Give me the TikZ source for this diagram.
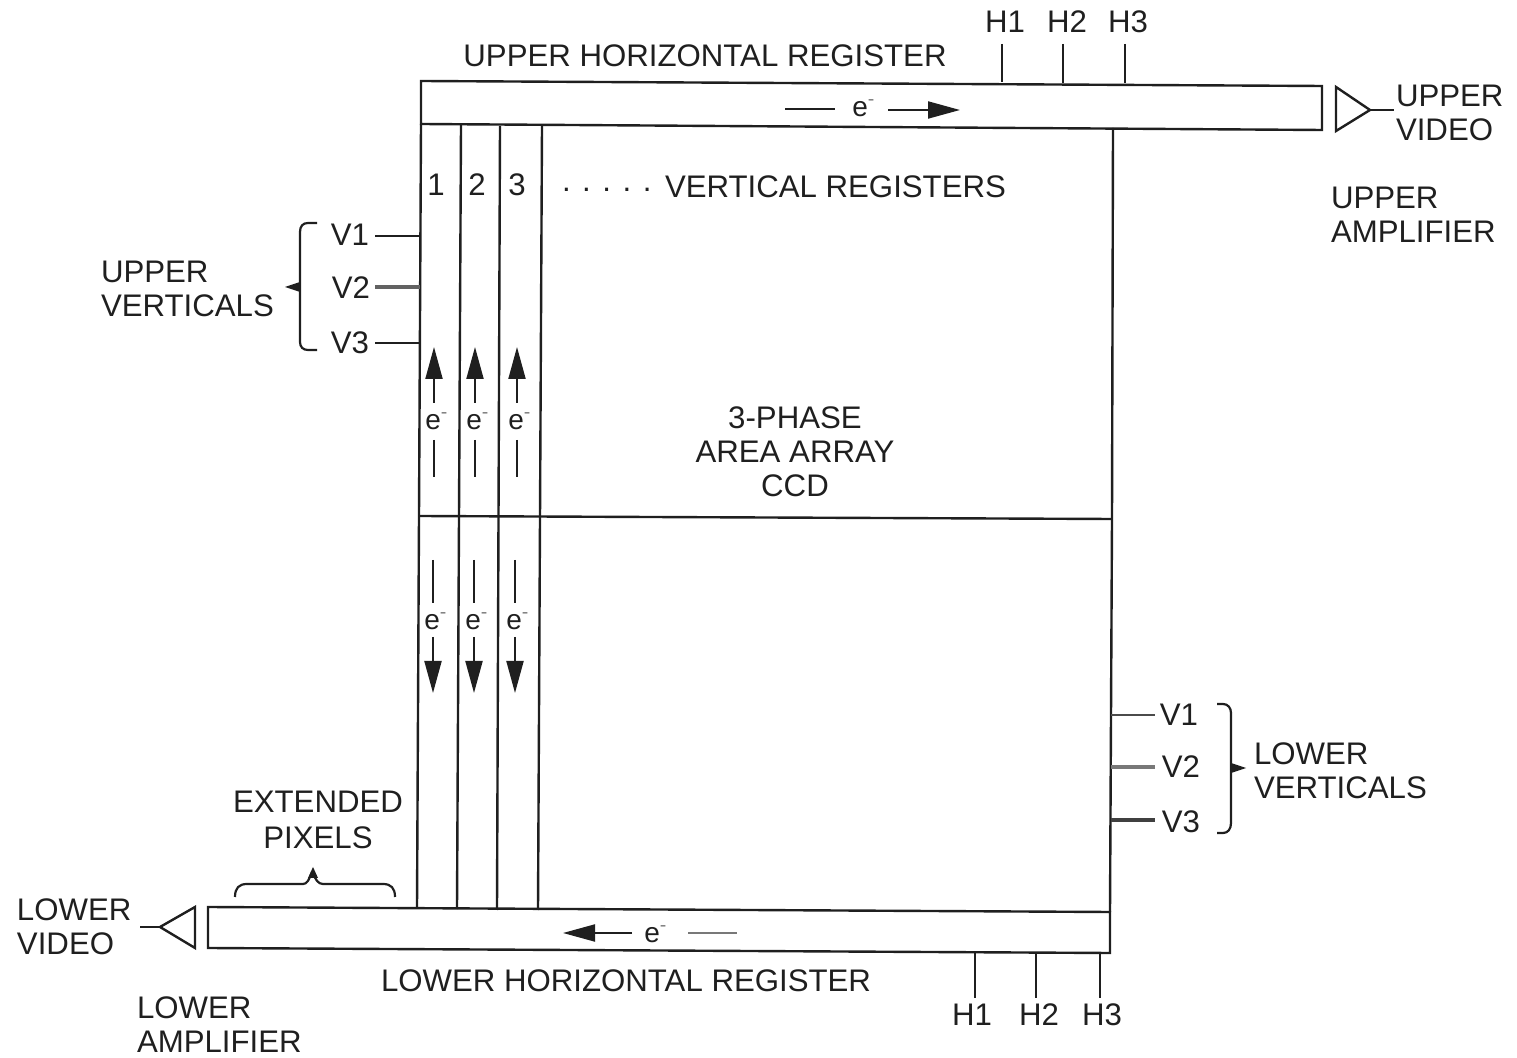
\documentclass[tikz,border=0pt]{standalone}
\usepackage{fontspec}
\setmainfont{Liberation Sans}
\usetikzlibrary{arrows.meta}
\definecolor{ink}{gray}{0.12}
\tikzset{
  lbl/.style={inner sep=0pt,outer sep=1pt,text=ink,font=\fontsize{15.6}{17}\selectfont},
  lleft/.style={lbl,align=left},
  lcen/.style={lbl,align=center},
  wire/.style={draw=ink,line width=1.2pt},
  stub/.style={draw=ink,line width=1pt},
  flow/.style={draw=ink,line width=1pt,-{Triangle[length=16pt,width=8.5pt]}},
  ee/.style={inner sep=0pt,text=ink,font=\fontsize{14}{15}\selectfont},
  brc/.style={draw=ink,line width=1.1pt,line join=round},
  brctip/.style={fill=ink,draw=none},
}
\newcommand{\eminus}{e\textsuperscript{\textcolor{gray}{-}}}
\begin{document}
\begin{tikzpicture}[x=0.5pt,y=-0.5pt]
\useasboundingbox (0,0) rectangle (1517,1058);
% corners
\coordinate (urTL) at (421,81);
\coordinate (urTR) at (1322,86);
\coordinate (urBL) at (421,124);
\coordinate (urBR) at (1322,130);
\coordinate (arrTR) at (1113,128);
\coordinate (midL) at (419,516);
\coordinate (midR) at (1112,519);
\coordinate (arrBL) at (417,908);
\coordinate (arrBR) at (1110,912);
\coordinate (lrTL) at (208,907);
\coordinate (lrBL) at (208,948);
\coordinate (lrBR) at (1110,953);
% registers and array
\draw[wire] (urBL) -- (urTL) -- (urTR) -- (urBR) -- cycle;
\draw[wire] (lrTL) -- (arrBR) -- (lrBR) -- (lrBL) -- cycle;
\draw[wire] (urBL) -- (midL) -- (arrBL);
\draw[wire] (arrTR) -- (midR) -- (arrBR);
\draw[wire] (midL) -- (midR);
% columns
\coordinate (c1t) at (461,125); \coordinate (c1b) at (457,909);
\coordinate (c2t) at (500,126); \coordinate (c2b) at (497,910);
\coordinate (c3t) at (542,126); \coordinate (c3b) at (538,910);
\draw[wire] (c1t) -- (c1b);
\draw[wire] (c2t) -- (c2b);
\draw[wire] (c3t) -- (c3b);
% amplifiers
\node[lleft,anchor=west] (uvid) at (1394,113) {UPPER\\VIDEO};
\node[lleft,anchor=west] (lvid) at (15,927) {LOWER\\VIDEO};
\coordinate (uaA) at (1336,87); \coordinate (uaB) at (1336,131); \coordinate (uaC) at (1370,110);
\draw[wire] (uaA) -- (uaC) -- (uaB) -- cycle;
\draw[stub] (uaC) -- (uvid.west |- uaC);
\coordinate (laA) at (195,907); \coordinate (laB) at (195,948); \coordinate (laC) at (160,927);
\draw[wire] (laA) -- (laC) -- (laB) -- cycle;
\coordinate (laW) at (140,927);
\draw[stub] (laC) -- (laW);
% register labels
\node[lbl] (uhr) at (705,56) {UPPER HORIZONTAL REGISTER};
\node[lbl] (lhr) at (626,981) {LOWER HORIZONTAL REGISTER};
\node[lleft,anchor=west] (uamp) at (1329,215) {UPPER\\AMPLIFIER};
\node[lleft,anchor=west] (lamp) at (135,1025) {LOWER\\AMPLIFIER};
\node[lleft,anchor=west] (uvert) at (99,289) {UPPER\\VERTICALS};
\node[lleft,anchor=west] (lvert) at (1252,771) {LOWER\\VERTICALS};
\node[lcen] (ext) at (318,820) {EXTENDED\\[1pt]PIXELS};
\node[lcen] (ccd) at (795,452) {3-PHASE\\AREA ARRAY\\CCD};
\node[lbl,anchor=west] (vreg) at (663,187) {VERTICAL REGISTERS};
\node[lbl,anchor=west] (dots) at (560,190) {. . . . .};
\node[lbl] (n1) at (436,185) {1};
\node[lbl] (n2) at (477,185) {2};
\node[lbl] (n3) at (517,185) {3};
% H pins
\node[lbl] (uh1) at (1005,22) {H1};
\node[lbl] (uh2) at (1067,22) {H2};
\node[lbl] (uh3) at (1128,22) {H3};
\coordinate (uh1e) at (1002,82); \coordinate (uh1s) at (1002,44);
\coordinate (uh2e) at (1063,83); \coordinate (uh2s) at (1063,44);
\coordinate (uh3e) at (1125,83); \coordinate (uh3s) at (1125,44);
\draw[stub] (uh1s) -- (uh1e);
\draw[stub] (uh2s) -- (uh2e);
\draw[stub] (uh3s) -- (uh3e);
\node[lbl] (lh1) at (972,1015) {H1};
\node[lbl] (lh2) at (1039,1015) {H2};
\node[lbl] (lh3) at (1102,1015) {H3};
\coordinate (lh1e) at (975,952); \coordinate (lh1s) at (975,998);
\coordinate (lh2e) at (1036,952); \coordinate (lh2s) at (1036,998);
\coordinate (lh3e) at (1100,953); \coordinate (lh3s) at (1100,998);
\draw[stub] (lh1s) -- (lh1e);
\draw[stub] (lh2s) -- (lh2e);
\draw[stub] (lh3s) -- (lh3e);
% V pins
\node[lbl] (uv1) at (350,235) {V1};
\node[lbl] (uv2) at (351,288) {V2};
\node[lbl] (uv3) at (350,343) {V3};
\coordinate (uv1e) at (420,236); \coordinate (uv1s) at (375,236);
\coordinate (uv2e) at (420,287); \coordinate (uv2s) at (375,287);
\coordinate (uv3e) at (420,343); \coordinate (uv3s) at (375,343);
\draw[stub] (uv1s) -- (uv1e);
\draw[draw=ink!70,line width=1.6pt] (uv2s) -- (uv2e);
\draw[stub] (uv3s) -- (uv3e);
\node[lbl] (lv1) at (1179,715) {V1};
\node[lbl] (lv2) at (1181,767) {V2};
\node[lbl] (lv3) at (1181,822) {V3};
\coordinate (lv1e) at (1111,715); \coordinate (lv1s) at (1155,715);
\coordinate (lv2e) at (1111,767); \coordinate (lv2s) at (1155,767);
\coordinate (lv3e) at (1111,820); \coordinate (lv3s) at (1155,820);
\draw[draw=ink!80,line width=1.2pt] (lv1e) -- (lv1s);
\draw[draw=ink!60,line width=1.6pt] (lv2e) -- (lv2s);
\draw[draw=ink!85,line width=2.4pt] (lv3e) -- (lv3s);
% braces
\draw[brc] (317,223) -- (308,223) .. controls (303,223) and (300,226) .. (300,232) -- (300,342)
  .. controls (300,347) and (303,350) .. (308,350) -- (317,350);
\draw[brctip] (285,287) -- (300,282) -- (300,292) -- cycle;
\draw[brc] (1217,704) -- (1223,704) .. controls (1228,704) and (1231,708) .. (1231,713) -- (1231,823)
  .. controls (1231,829) and (1228,833) .. (1223,833) -- (1217,833);
\draw[brctip] (1246,768) -- (1231,763) -- (1231,773) -- cycle;
\draw[brc] (235,897) .. controls (235,888) and (239,884) .. (247,884) -- (303,884)
  .. controls (307,884) and (309,880) .. (312,872) .. controls (316,880) and (318,884) .. (323,884)
  -- (383,884) .. controls (391,884) and (395,888) .. (395,897);
\draw[brctip] (313,867) -- (308,878) -- (318,878) -- cycle;
% vertical e- flows, upper half
\foreach \x/\n in {434/a,475/b,517/c}{
  \node[ee,anchor=west] (ue\n) at (\x-9,421) {\eminus};
  \coordinate (ue\n t) at (\x,347);
  \coordinate (ue\n s) at (\x,403);
  \coordinate (ue\n u) at (\x,440);
  \coordinate (ue\n v) at (\x,477);
  \draw[flow] (ue\n s) -- (ue\n t);
  \draw[stub] (ue\n u) -- (ue\n v);
}
% vertical e- flows, lower half
\foreach \x/\n in {433/a,474/b,515/c}{
  \node[ee,anchor=west] (de\n) at (\x-9,621) {\eminus};
  \coordinate (de\n t) at (\x,693);
  \coordinate (de\n s) at (\x,637);
  \coordinate (de\n u) at (\x,560);
  \coordinate (de\n v) at (\x,603);
  \draw[flow] (de\n s) -- (de\n t);
  \draw[stub] (de\n u) -- (de\n v);
}
% horizontal e- flows
\node[ee,anchor=west] (ueh) at (852,108) {\eminus};
\coordinate (uehA) at (785,109); \coordinate (uehB) at (835,109);
\coordinate (uehC) at (888,110); \coordinate (uehD) at (960,110);
\draw[stub] (uehA) -- (uehB);
\draw[flow] (uehC) -- (uehD);
\node[ee,anchor=west] (leh) at (644,934) {\eminus};
\coordinate (lehA) at (632,933); \coordinate (lehB) at (563,933);
\coordinate (lehC) at (688,933); \coordinate (lehD) at (737,933);
\draw[flow] (lehA) -- (lehB);
\draw[draw=ink!60,line width=1.2pt] (lehC) -- (lehD);
\end{tikzpicture}
\end{document}
